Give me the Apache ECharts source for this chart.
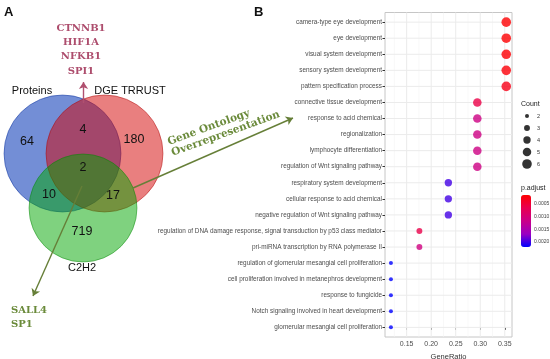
<!DOCTYPE html>
<html><head><meta charset="utf-8">
<script src="https://cdn.jsdelivr.net/npm/echarts@6/dist/echarts.min.js"></script>
<style>html,body{margin:0;padding:0;background:#fff}#c{width:550px;height:359px}</style>
</head><body><div id="c"></div>
<script>
// ---------- DATA ----------
const goTerms = [
  'camera-type eye development','eye development','visual system development','sensory system development',
  'pattern specification process','connective tissue development','response to acid chemical','regionalization',
  'lymphocyte differentiation','regulation of Wnt signaling pathway','respiratory system development',
  'cellular response to acid chemical','negative regulation of Wnt signaling pathway',
  'regulation of DNA damage response, signal transduction by p53 class mediator',
  'pri-miRNA transcription by RNA polymerase II','regulation of glomerular mesangial cell proliferation',
  'cell proliferation involved in metanephros development','response to fungicide',
  'Notch signaling involved in heart development','glomerular mesangial cell proliferation'
];
const geneRatio = [0.353,0.353,0.353,0.353,0.353,0.294,0.294,0.294,0.294,0.294,0.235,0.235,0.235,0.176,0.176,0.118,0.118,0.118,0.118,0.118];
const counts    = [6,6,6,6,6,5,5,5,5,5,4,4,4,3,3,2,2,2,2,2];
const pAdjust   = [0.00016,0.00016,0.00017,0.0002,0.0003,0.0006,0.00112,0.00112,0.00112,0.00112,0.00198,0.00198,0.00198,0.00062,0.00108,0.0022,0.0022,0.0022,0.0022,0.0022];
const xTicks = [0.15,0.20,0.25,0.30,0.35];
const xMinorTicks = [0.125,0.175,0.225,0.275,0.325];
const countLegend = [2,3,4,5,6];
const pTicks = [0.0005,0.0010,0.0015,0.0020];
const vennSets = ['Proteins','DGE TRRUST','C2H2'];
const vennCounts = [64,180,719,4,10,17,2]; // P only, D only, C only, P&D, P&C, D&C, all
const upGenes = ['CTNNB1','HIF1A','NFKB1','SPI1'];
const downGenes = ['SALL4','SP1'];
const goLabel = ['Gene Ontology','Overrepresentation'];

// ---------- LAYOUT (panel A, pixel-like units on hidden axes) ----------
const L = {
  circles: [[62.5,153.5,58.5],[104.5,153.5,58.5],[83,208,54]],
  circleFill: ['rgba(0,50,180,0.55)','rgba(212,0,0,0.5)','rgba(0,165,0,0.5)'],
  circleStroke: ['rgba(0,40,150,0.45)','rgba(170,0,0,0.45)','rgba(0,130,0,0.45)'],
  setLabelPos: [[32,91],[130,91],[82,268]],
  regionPos: [[27,142],[134,140],[82,232],[83,130],[49,195],[113,196],[83,168]],
  upTop: 28, upStep: 14.4, upX: 81,
  downTop: 310, downStep: 14.5, downX: 11,
  goPos: [166,137], goRot: 20,
  arrows: [
    {c:[[83.5,103],[83.5,82]], color:'#b0506f'},
    {c:[[133,188],[293,118]], color:'#667f38'},
    {c:[[82,186],[33,296]], color:'#667f38'}
  ]
};
const pink = '#ad4d6d', green = '#6a8a3a';
const serif = '"DejaVu Serif", serif';
const sans = '"Liberation Sans", Arial, sans-serif';

function textSeries(points, texts, style, rot) {
  return {
    type:'custom', coordinateSystem:'cartesian2d', xAxisIndex:0, yAxisIndex:0, silent:true, z:10,
    data: points.map((p,i)=>[p[0],p[1],i]),
    renderItem: (params, api) => {
      const c = api.coord([api.value(0), api.value(1)]);
      return {type:'text', x:c[0], y:c[1], rotation:(rot||0)*Math.PI/180,
        style: Object.assign({text: texts[params.dataIndex]}, style)};
    }
  };
}

const dotSize = c => Math.sqrt(16 + 19*(c-2));
const yIdx = goTerms.map((t,i)=>i);

const series = [
  // Venn circles
  {
    type:'custom', coordinateSystem:'cartesian2d', xAxisIndex:0, yAxisIndex:0, silent:true, z:2,
    data: L.circles,
    renderItem: (params, api) => {
      const c = api.coord([api.value(0), api.value(1)]);
      const r = Math.abs(api.size([api.value(2), 0])[0]);
      return {type:'circle', shape:{cx:c[0], cy:c[1], r:r},
        style:{fill:L.circleFill[params.dataIndex], stroke:L.circleStroke[params.dataIndex], lineWidth:1}};
    }
  },
  textSeries(L.setLabelPos, vennSets, {fontSize:11, fontFamily:sans, fill:'#111', align:'center', verticalAlign:'middle'}),
  textSeries(L.regionPos, vennCounts.map(String), {fontSize:12.5, fontFamily:sans, fill:'#111', align:'center', verticalAlign:'middle'}),
  textSeries(upGenes.map((g,i)=>[L.upX, L.upTop + i*L.upStep]), upGenes, {fontSize:10, fontWeight:'bold', fontFamily:serif, fill:pink, align:'center', verticalAlign:'middle'}),
  textSeries(downGenes.map((g,i)=>[L.downX, L.downTop + i*L.downStep]), downGenes, {fontSize:10, fontWeight:'bold', fontFamily:serif, fill:green, align:'left', verticalAlign:'middle'}),
  textSeries([L.goPos], [goLabel.join('\n')], {fontSize:10.5, fontWeight:'bold', fontFamily:serif, fill:green, align:'left', verticalAlign:'top', lineHeight:11.5}, L.goRot),
  {
    type:'lines', coordinateSystem:'cartesian2d', xAxisIndex:0, yAxisIndex:0, silent:true, z:8,
    symbol:['none','arrow'], symbolSize:[0,7],
    data: L.arrows.map(a=>({coords:a.c, lineStyle:{color:a.color}})),
    lineStyle:{width:1.4, opacity:1}
  },
  // Panel B grid lines
  {
    type:'custom', coordinateSystem:'cartesian2d', xAxisIndex:1, yAxisIndex:1, silent:true, z:1,
    data: xTicks.map(v=>[v,1]).concat(xMinorTicks.map(v=>[v,0])),
    renderItem: (params, api) => {
      const a = api.coord([api.value(0), -0.6]), b = api.coord([api.value(0), 19.6]);
      const major = api.value(1) === 1;
      return {type:'line', shape:{x1:a[0],y1:a[1],x2:b[0],y2:b[1]},
        style:{stroke: major ? '#ebebeb' : '#f4f4f4', lineWidth: major ? 1 : 0.6}};
    }
  },
  {
    type:'custom', coordinateSystem:'cartesian2d', xAxisIndex:1, yAxisIndex:1, silent:true, z:1,
    data: yIdx.map(i=>[0.2, i]),
    renderItem: (params, api) => {
      const a = api.coord([0.1059, api.value(1)]), b = api.coord([0.3647, api.value(1)]);
      return {type:'line', shape:{x1:a[0],y1:a[1],x2:b[0],y2:b[1]}, style:{stroke:'#ebebeb', lineWidth:1}};
    }
  },
  // Dots
  {
    id:'dots', type:'scatter', xAxisIndex:1, yAxisIndex:1, z:3, silent:true,
    data: goTerms.map((t,i)=>[geneRatio[i], 19-i, pAdjust[i], counts[i]]),
    symbolSize: v => dotSize(v[3])
  },
  // Count legend
  {
    type:'scatter', xAxisIndex:2, yAxisIndex:2, silent:true, z:3,
    data: countLegend.map(c=>[0.5, c, c]),
    symbolSize: v => dotSize(v[2]),
    itemStyle:{color:'#000'}
  }
];

const option = {
  backgroundColor:'#fff',
  animation:false,
  grid: [
    {left:0, top:0, width:550, height:359, show:false, outerBoundsMode:'none'},
    {left:385, top:12.5, width:127, height:324.5, show:true, borderColor:'#c6c6c6', borderWidth:1, backgroundColor:'#fff', outerBoundsMode:'none'},
    {left:522, top:116, width:10, height:48, show:false, outerBoundsMode:'none'},
    {left:521, top:195, width:10, height:52, show:false, outerBoundsMode:'none'}
  ],
  xAxis: [
    {gridIndex:0, type:'value', min:0, max:550, show:false},
    {gridIndex:1, type:'value', min:0.1059, max:0.3647,
      axisLine:{show:false}, splitLine:{show:false},
      axisTick:{show:true, length:2.5, lineStyle:{color:'#333'}, customValues:xTicks},
      axisLabel:{fontSize:7, color:'#4d4d4d', margin:4, fontFamily:sans, customValues:xTicks, formatter:v=>v.toFixed(2)},
      name:'GeneRatio', nameLocation:'middle', nameGap:15, nameTextStyle:{fontSize:7.5, color:'#333', fontFamily:sans}},
    {gridIndex:2, type:'value', min:0, max:1, show:false},
    {gridIndex:3, type:'value', min:0, max:1, show:false}
  ],
  yAxis: [
    {gridIndex:0, type:'value', min:0, max:359, inverse:true, show:false},
    {gridIndex:1, type:'value', min:-0.6, max:19.6,
      axisLine:{show:false}, splitLine:{show:false},
      axisTick:{show:true, length:2.5, lineStyle:{color:'#333'}, customValues:yIdx},
      axisLabel:{fontSize:6.4, color:'#4d4d4d', margin:3, fontFamily:sans, customValues:yIdx,
        formatter:v=>goTerms[19-Math.round(v)]}},
    {gridIndex:2, type:'value', min:2, max:6, inverse:true, position:'right',
      axisLine:{show:false}, axisTick:{show:false}, splitLine:{show:false},
      axisLabel:{fontSize:5.5, color:'#333', margin:5, fontFamily:sans, customValues:countLegend}},
    {gridIndex:3, type:'value', min:0.000145, max:0.0022, inverse:true, position:'right',
      axisLine:{show:false}, axisTick:{show:false}, splitLine:{show:false},
      axisLabel:{fontSize:5, color:'#444', margin:3, fontFamily:sans, customValues:pTicks, formatter:v=>v.toFixed(4)}}
  ],
  visualMap: [{
    type:'continuous', seriesId:'dots', dimension:2, min:0.000145, max:0.0022, inverse:true,
    inRange:{color:['#ff0000','#e80050','#ca0089','#9a00c3','#0000ff']},
    left:521, top:195, itemWidth:10, itemHeight:52, calculable:false, text:['',''], padding:0,
    orient:'vertical', hoverLink:false
  }],
  graphic: [
    {type:'text', left:4, top:6, style:{text:'A', fontSize:13, fontWeight:'bold', fontFamily:sans, fill:'#111'}},
    {type:'text', left:254, top:6, style:{text:'B', fontSize:13, fontWeight:'bold', fontFamily:sans, fill:'#111'}},
    {type:'text', left:521, top:101, style:{text:'Count', fontSize:7, fontFamily:sans, fill:'#222'}},
    {type:'text', left:521, top:185, style:{text:'p.adjust', fontSize:7, fontFamily:sans, fill:'#222'}}
  ],
  series: series
};
const chart = echarts.init(document.getElementById('c'));
chart.setOption(option);
</script></body></html>
